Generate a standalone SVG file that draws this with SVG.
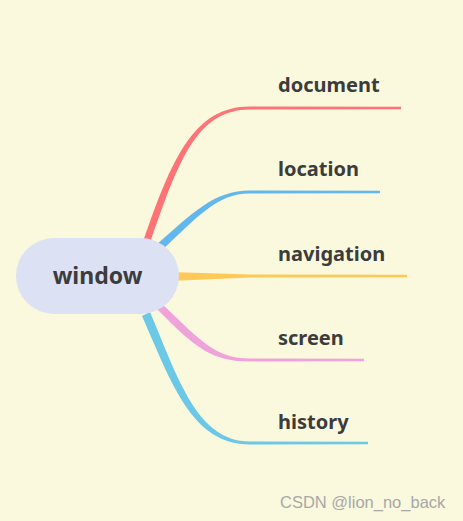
<svg xmlns="http://www.w3.org/2000/svg" width="463" height="521" viewBox="0 0 463 521">
<style>
.lbl{font-family:"Noto Sans","Open Sans",sans-serif;font-weight:bold;font-size:20px;fill:#3c3c3c}
.root{font-family:"Noto Sans","Open Sans",sans-serif;font-weight:bold;font-size:23px;fill:#3c3c3c}
.wm{font-family:"Liberation Sans",Arial,sans-serif;font-size:16.5px;fill:#a8a8a8}
</style>
<rect width="463" height="521" fill="#FAF8DD"/>
<g id="connectors">
<path fill="#FF7377" d="M143,242 C172,158 194,106.5 250,106.5 L401,106.8 L401,109.2 L250,109.5 C196,109.5 178,162 149,246 Z"/>
<path fill="#62B7EE" d="M156,245 C194,212 214,190.5 250,190.5 L380,190.8 L380,193.2 L250,193.5 C216,193.5 197,218 161,251 Z"/>
<path fill="#FFC957" d="M170,272 L250,274.5 L407,274.8 L407,277.2 L250,277.5 L170,281 Z"/>
<path fill="#F0A2DA" d="M161,303 C202,342 216,358.5 250,358.5 L364,358.8 L364,361.2 L250,361.5 C213,361.5 196,349 156,308 Z"/>
<path fill="#6BC8E6" d="M150,312 C178,378 197,441.5 250,441.5 L368,441.8 L368,444.2 L250,444.5 C192,444.5 172,384 142,316 Z"/>
</g>
<g id="window">
<rect x="16" y="238" width="163" height="76" rx="38" fill="#DCE1F3"/>
<text class="root" x="97.5" y="284" text-anchor="middle">window</text>
</g>
<g id="document"><text class="lbl" x="278" y="92">document</text></g>
<g id="location"><text class="lbl" x="278" y="176">location</text></g>
<g id="navigation"><text class="lbl" x="278" y="261">navigation</text></g>
<g id="screen"><text class="lbl" x="278" y="345">screen</text></g>
<g id="history"><text class="lbl" x="278" y="429">history</text></g>
<text class="wm" x="280" y="508">CSDN @lion_no_back</text>
</svg>
